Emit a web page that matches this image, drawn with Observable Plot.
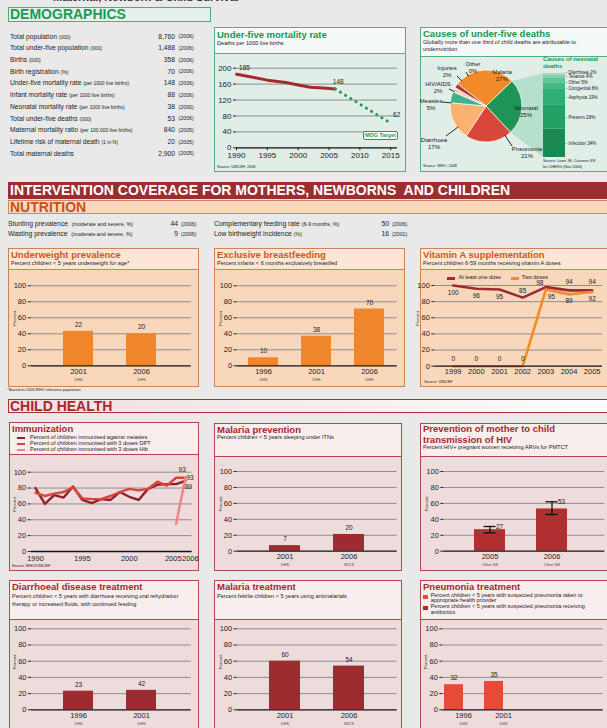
<!DOCTYPE html>
<html><head><meta charset="utf-8">
<script src="https://cdn.jsdelivr.net/npm/d3@7"></script>
<script src="https://cdn.jsdelivr.net/npm/@observablehq/plot@0.6"></script>
<style>
html,body{margin:0;padding:0;background:#e9e9e9;}
#page{position:relative;width:607px;height:728px;overflow:hidden;background:#e9e9e9;font-family:"Liberation Sans",Arial,Helvetica,sans-serif;color:#222;}
#page div{position:absolute;white-space:nowrap;line-height:1;}
#page svg{display:block;}
</style></head><body><div id="page"></div>
<script>
// ================= DATA =================
const topTitle = "Maternal, Newborn & Child Survival";
const demoLabels = ["Total population","Total under-five population","Births","Birth registration","Under-five mortality rate","Infant mortality rate","Neonatal mortality rate","Total under-five deaths","Maternal mortality ratio","Lifetime risk of maternal death","Total maternal deaths"];
const demoUnits = ["(000)","(000)","(000)","(%)","(per 1000 live births)","(per 1000 live births)","(per 1000 live births)","(000)","(per 100,000 live births)","(1 in N)",""];
const demoValues = ["8,760","1,488","358","70","148","88","38","53","840","20","2,900"];
const demoYears = ["2006","2006","2006","2006","2006","2006","2000","2006","2005","2005","2005"];

const u5Years = [1990,1992,1995,1998,2000,2002,2004,2006];
const u5Rates = [185,179,170,164,158,152,150,148];
const mdgYears = [2006,2015];
const mdgRates = [148,62];
const u5Ticks = [1990,1995,2000,2005,2010,2015];

const causeNames = ["Malaria","Neonatal","Pneumonia","Diarrhoea","Measles","HIV/AIDS","Injuries","Other"];
const causeShares = [27,25,21,17,5,2,2,0];
const neoNames = ["Infection","Preterm","Asphyxia","Congenital","Other","Tetanus","Diarrhoea"];
const neoShares = [34,28,19,8,5,4,2];

const nutLeftLabels = ["Stunting prevalence","Wasting prevalence"];
const nutLeftUnits = ["(moderate and severe, %)","(moderate and severe, %)"];
const nutLeftValues = ["44","9"];
const nutLeftYears = ["2006","2006"];
const nutRightLabels = ["Complementary feeding rate","Low birthweight incidence"];
const nutRightUnits = ["(6-9 months, %)","(%)"];
const nutRightValues = ["50","16"];
const nutRightYears = ["2006","2001"];

const uwYears = ["2001","2006"];
const uwBars = [43,40];
const uwLabels = ["22","20"];
const uwSources = ["DHS","DHS"];

const ebfYears = ["1996","2001","2006"];
const ebfBars = [10,37,71];
const ebfLabels = ["10","38","70"];
const ebfSources = ["DHS","DHS","DHS"];

const vitYears = [1999,2000,2001,2002,2003,2004,2005];
const vitOne = [100,96,95,85,98,94,94];
const vitTwo = [0,0,0,0,95,89,92];

const immYears = [1990,1991,1992,1993,1994,1995,1996,1997,1998,1999,2000,2001,2002,2003,2004,2005,2006];
const measles = [80,60,71,68,82,65,61,66,65,75,69,65,79,84,85,85,89];
const dpt = [74,70,73,75,81,67,66,66,70,75,79,77,79,88,83,93,93];
const hibYears = [2005,2006];
const hib = [35,93];

const itnYears = ["2001","2006"];
const itnBars = [7,21];
const itnLabels = ["7","20"];
const itnSources = ["DHS","MICS"];

const pmtctYears = ["2005","2006"];
const pmtctBars = [27,53];
const pmtctLow = [23,46];
const pmtctHigh = [31,62];
const pmtctLabels = ["27","53"];
const pmtctSources = ["Other NS","Other NS"];

const orsYears = ["1996","2001"];
const orsBars = [23,24];
const orsLabels = ["23","42"];
const orsSources = ["DHS","DHS"];

const amYears = ["2001","2006"];
const amBars = [60,54];
const amLabels = ["60","54"];
const amSources = ["DHS","MICS"];

const pneuYears = ["1996","2001"];
const pneuBars = [31,35];
const pneuLabels = ["32","35"];
const pneuSources = ["DHS","DHS"];

// ================= HELPERS =================
const FONT = '"Liberation Sans", Arial, Helvetica, sans-serif';
const page = document.getElementById("page");
function el(css, html){ const e=document.createElement("div"); e.style.cssText=css; if(html!=null) e.innerHTML=html; page.appendChild(e); return e; }
function txt(x,yc,s,size,css=""){ return el(`left:${x}px;top:${yc-size*0.55}px;font-size:${size}px;${css}`, s); }
function txtR(xr,yc,s,size,css=""){ return el(`right:${607-xr}px;top:${yc-size*0.55}px;font-size:${size}px;${css}`, s); }
function mount(svg,left,top){ const d=el(`left:${left}px;top:${top}px;`); d.appendChild(svg); }
const st = () => ({background:"transparent", fontFamily:FONT, fontSize:"8px", color:"#222", overflow:"visible"});
const GRID = "#8e8e8e";
const TH = {
  green:{border:"#58ae82", head:"#f4f8f6", body:"#e1ede7", title:"#17964f"},
  peach:{border:"#cd8258", head:"#fde6d6", body:"#f9d7bb", title:"#cb561e"},
  rose:{border:"#b8434c", head:"#f8eeee", body:"#eedcdd", title:"#a8262d"}
};
function panel(x,y,w,h,tH,t){
  el(`left:${x}px;top:${y}px;width:${w}px;height:${h}px;box-sizing:border-box;border:1px solid ${t.border};background:${t.body};`);
  el(`left:${x}px;top:${y}px;width:${w}px;height:${tH}px;box-sizing:border-box;border:1px solid ${t.border};background:${t.head};`);
}
function title(x,yc,s,t){ return txt(x,yc,s,9.5,`font-weight:bold;color:${t.title};`); }
function sub(x,yc,s){ return txt(x,yc,s,5.6,"color:#222;"); }

// ================= TOP SECTION =================
txt(53,-2,topTitle,11,"font-weight:bold;color:#333;");
el(`left:8px;top:7px;width:203px;height:15px;box-sizing:border-box;border:1px solid #4ea97b;background:#e4f2eb;`);
txt(10,15,"DEMOGRAPHICS",14,"font-weight:bold;color:#1a9a57;");
demoLabels.forEach((l,i)=>{
  const yc = 37.3 + i*11.7;
  txt(10,yc,`${l} <span style="font-size:5px">${demoUnits[i]}</span>`,6.7);
  txtR(175,yc,demoValues[i],6.7);
  txt(178.5,yc,`(${demoYears[i]})`,5.3);
});

// Under-five mortality
panel(214,27,192,145,27,TH.green);
title(217,35.5,"Under-five mortality rate",TH.green);
sub(217,44.5,"Deaths per 1000 live births");
(function(){
  const left=215, top=55, width=191, height=117;
  const u5 = u5Years.map((y,i)=>({year:y, v:u5Rates[i]}));
  const mdg = mdgYears.map((y,i)=>({year:y, v:mdgRates[i]}));
  const svg = Plot.plot({
    width, height, style:st(),
    marginLeft:236-left, marginRight:left+width-397, marginTop:67.7-top, marginBottom:top+height-147.3,
    x:{domain:[1990,2016.1], axis:null}, y:{domain:[0,200], axis:null},
    marks:[
      Plot.ruleY([40,80,120,160,200],{stroke:GRID, strokeWidth:1}),
      Plot.line(u5,{x:"year", y:"v", stroke:"#a52a2f", strokeWidth:3}),
      Plot.line(mdg,{x:"year", y:"v", stroke:"#1e9a5a", strokeWidth:3, strokeDasharray:"0.1,6", strokeLinecap:"round"}),
      Plot.axisY({ticks:[0,40,80,120,160,200], tickFormat:d=>String(d), tickSize:3, tickPadding:2, fontSize:8, line:true, label:null}),
      Plot.axisX({ticks:u5Ticks, tickFormat:d=>String(d), tickSize:3, tickPadding:2, fontSize:8, label:null}),
      Plot.ruleY([0],{stroke:"#111", strokeWidth:1.3}),
      Plot.text([u5[0]],{x:"year", y:"v", text:d=>String(d.v), dx:8, dy:-6, fontSize:6.5}),
      Plot.text([u5[u5.length-1]],{x:"year", y:"v", text:d=>String(d.v), dx:3, dy:-6.5, fontSize:6.5}),
      Plot.text([mdg[mdg.length-1]],{x:"year", y:"v", text:d=>String(d.v), dx:6, dy:-8.5, fontSize:6.5})
    ]
  });
  mount(svg,left,top);
})();
el(`left:363px;top:131px;width:35px;height:9px;box-sizing:border-box;border:1px solid #1e9a5a;border-radius:2px;background:#fff;color:#1e9a5a;font-weight:bold;font-size:5.5px;line-height:7px;text-align:center;`,"MDG Target");
txt(217,168,"Source: UNICEF, 2008",3.8);

// Causes of under-five deaths
panel(420,27,192,145,30,TH.green);
title(423,34.5,"Causes of under-five deaths",TH.green);
sub(423,43.3,"Globally more than one third of child deaths are attributable to");
sub(423,50.3,"undernutrition");
(function(){
  const left=420, top=57, width=187, height=115;
  const cx=66, cy=49, R=36;
  const start = -52*Math.PI/180;
  const causeColors = ["#f18a2a","#1f9457","#d9473b","#fbb270","#3fb489","#f9cdb7","#a8323a","#888888"];
  const neoColors = ["#1b8a52","#22a065","#2fae75","#48b985","#64c398","#82cfaa","#a2dcbf"];
  const causeData = causeNames.map((n,i)=>({name:n, v:causeShares[i]}));
  const arcs = d3.pie().sort(null).value(d=>d.v).startAngle(start).endAngle(start+2*Math.PI)(causeData);
  const neoArc = arcs[causeNames.indexOf("Neonatal")];
  let cum = 0;
  const neoData = neoNames.map((n,i)=>{ const d={name:n, v:neoShares[i], mid:cum+neoShares[i]/2}; cum+=neoShares[i]; return d; });
  const labelNudge = {Diarrhoea:2.6, Other:-2.0, Congenital:-2.6};
  const barX0=123, barX1=145, mTop=16, mBottom=15;
  const pt = (a,r) => [cx + r*Math.sin(a), cy - r*Math.cos(a)];
  const labelAt = {Other:[-13,-39], Injuries:[-39,-35], "HIV/AIDS":[-48,-19], Measles:[-55,-2], Diarrhoea:[-52,37], Malaria:[16,-31], Neonatal:[40,5], Pneumonia:[41,46]};
  const leaderAt = {Other:[-20,-34], Injuries:[-29,-30], "HIV/AIDS":[-37,-17], Measles:[-44,-4], Diarrhoea:[-40,30], Pneumonia:[26,40]};
  const pieMark = () => {
    const g = d3.create("svg:g");
    const [ax,ay] = pt(neoArc.startAngle,R), [bx,by] = pt(neoArc.endAngle,R);
    g.append("path").attr("d",`M${ax},${ay}L${barX0},${mTop}L${barX0},${height-mBottom}L${bx},${by}Z`).attr("fill","#b5e0cb");
    const arc = d3.arc().innerRadius(0).outerRadius(R);
    g.append("g").attr("transform",`translate(${cx},${cy})`)
      .selectAll("path").data(arcs.filter(a=>a.data.v>0)).join("path")
      .attr("d",arc).attr("fill",d=>causeColors[d.index]).attr("stroke","#fff").attr("stroke-width",0.7);
    arcs.forEach(a=>{
      const n=a.data.name, le=leaderAt[n];
      if(le){
        const ang=Math.atan2(le[0],-le[1]);
        const [px,py]=pt(ang,R-1.5);
        g.append("line").attr("x1",cx+le[0]).attr("y1",cy+le[1]).attr("x2",px).attr("y2",py).attr("stroke","#111").attr("stroke-width",0.9);
      }
      const [lx,ly]=labelAt[n];
      const t=g.append("text").attr("text-anchor","middle").attr("font-size",6).attr("fill","#222").attr("font-family",FONT);
      t.append("tspan").attr("x",cx+lx).attr("y",cy+ly-1).text(n);
      t.append("tspan").attr("x",cx+lx).attr("y",cy+ly+6).text(a.data.v+"%");
    });
    return g.node();
  };
  const svg = Plot.plot({
    width, height, style:st(),
    marginLeft:0, marginRight:0, marginTop:mTop, marginBottom:mBottom,
    x:{type:"band", domain:["neo"], range:[barX0,barX1], padding:0, axis:null},
    y:{domain:[0,100], axis:null},
    color:{domain:neoNames, range:neoColors},
    marks:[
      pieMark,
      Plot.barY(neoData,{x:()=>"neo", y:"v", fill:"name"}),
      Plot.text(neoData,{x:()=>"neo", y:d=>d.mid+(labelNudge[d.name]||0), text:d=>`${d.name} ${d.v}%`, textAnchor:"start", dx:14, fontSize:4.6, fill:"#222"}),
      Plot.text(neoData,{x:()=>"neo", y:d=>d.mid+(labelNudge[d.name]||0), text:()=>"-", textAnchor:"start", dx:11, fontSize:5, fill:"#222"})
    ]
  });
  mount(svg,left,top);
})();
txt(543,59.5,"Causes of neonatal",6,"font-weight:bold;color:#17964f;");
txt(543,66.5,"deaths",6,"font-weight:bold;color:#17964f;");
txt(423,167,"Source: WHO, 2008",3.8);
txt(543,162,"Source: Lawn JE, Cousens SN",3.8);
txt(543,168,"for CHERG (Nov 2006)",3.8);

// ================= INTERVENTION / NUTRITION =================
el(`left:8px;top:182px;width:605px;height:17px;background:#9c2e32;`);
txt(10,190.5,"INTERVENTION COVERAGE FOR MOTHERS, NEWBORNS&nbsp; AND CHILDREN",14,"font-weight:bold;color:#fff;");
el(`left:8px;top:200px;width:605px;height:14px;box-sizing:border-box;border:1px solid #cc8a63;background:#fad8bd;`);
txt(10,207.5,"NUTRITION",14,"font-weight:bold;color:#c8511c;");
[0,1].forEach(i=>{
  const yc = i===0 ? 224.5 : 234.5;
  txt(8,yc,`${nutLeftLabels[i]} &nbsp;<span style="font-size:5.3px">${nutLeftUnits[i]}</span>`,6.8);
  txtR(178,yc,nutLeftValues[i],6.8);
  txt(181,yc,`(${nutLeftYears[i]})`,5.3);
  txt(214,yc,`${nutRightLabels[i]} <span style="font-size:5.3px">${nutRightUnits[i]}</span>`,6.8);
  txtR(389,yc,nutRightValues[i],6.8);
  txt(392,yc,`(${nutRightYears[i]})`,5.3);
});

function barChart(o){
  const data = o.cats.map((c,i)=>({cat:c, v:o.values[i], label:o.labels[i], sub:o.subs[i]}));
  const n = o.centers.length, step = o.centers[1]-o.centers[0];
  const r0 = o.centers[0]-o.bw/2-o.left, r1 = o.centers[n-1]+o.bw/2-o.left;
  const marks = [
    Plot.ruleY([20,40,60,80,100],{stroke:GRID, strokeWidth:1}),
    Plot.barY(data,{x:"cat", y:"v", fill:o.color, insetRight:o.barInsetRight||0}),
    ...(o.extra ? o.extra(data) : []),
    Plot.axisY({ticks:[0,20,40,60,80,100], tickFormat:d=>String(d), tickSize:3, tickPadding:2, fontSize:7.5, line:true, label:null}),
    Plot.ruleY([0],{stroke:"#111", strokeWidth:1.3}),
    Plot.text(data,{x:"cat", frameAnchor:"bottom", text:"cat", dy:8, fontSize:7.5, fill:"#222"}),
    Plot.text(data,{x:"cat", frameAnchor:"bottom", text:"sub", dy:14.8, fontSize:3.8, fill:"#444"}),
    Plot.text(["Percent"],{frameAnchor:"left", text:d=>d, rotate:-90, dx:-17, fontSize:4.3, fill:"#333"})
  ];
  if(!o.noLabels) marks.push(Plot.text(data,{x:"cat", y:"v", text:"label", dy:-6.5, dx:o.labelDx||0, fontSize:6.5, fill:"#222"}));
  const svg = Plot.plot({
    width:o.width, height:o.height, style:st(),
    marginLeft:o.axisX-o.left, marginRight:o.left+o.width-o.gridEnd,
    marginTop:o.y100-o.top, marginBottom:o.top+o.height-o.y0,
    x:{type:"band", domain:o.cats, range:[r0,r1], paddingInner:1-o.bw/step, paddingOuter:0, axis:null},
    y:{domain:[0,100], axis:null},
    marks
  });
  mount(svg,o.left,o.top);
}
const ORANGE="#f0862b", DRED="#9c2c30";

// Underweight
panel(8,248,191,139,22,TH.peach);
title(11,255,"Underweight prevalence",TH.peach);
sub(11,264,"Percent children &lt; 5 years underweight for age*");
barChart({left:9,top:271,width:189,height:115,y100:285.3,y0:365.3,axisX:30.7,gridEnd:190.7,centers:[77.5,141.3],bw:30.5,cats:uwYears,values:uwBars,labels:uwLabels,subs:uwSources,color:ORANGE});
txt(7.5,391.5,"*Based on 2006 WHO reference population",3.8);

// Exclusive breastfeeding
panel(214,248,191,139,22,TH.peach);
title(217,255,"Exclusive breastfeeding",TH.peach);
sub(217,264,"Percent infants &lt; 6 months exclusively breastfed");
barChart({left:215,top:271,width:189,height:115,y100:285.3,y0:365.3,axisX:236.7,gridEnd:396.7,centers:[262.7,316.5,370.3],bw:30.7,cats:ebfYears,values:ebfBars,labels:ebfLabels,subs:ebfSources,color:ORANGE});

// Vitamin A
panel(420,248,192,139,22,TH.peach);
title(423,255,"Vitamin A supplementation",TH.peach);
sub(423,264,"Percent children 6-59 months receiving vitamin A doses");
(function(){
  const left=421, top=271, width=186, height=116;
  const one = vitYears.map((y,i)=>({year:y, v:vitOne[i]}));
  const two = vitYears.map((y,i)=>({year:y, v:vitTwo[i]}));
  const lab = (d,opts) => Plot.text(d,{x:"year", y:"v", text:d=>String(d.v), fontSize:6.5, fill:"#222", ...opts});
  const svg = Plot.plot({
    width, height, style:st(),
    marginLeft:434.3-left, marginRight:left+width-602, marginTop:285-top, marginBottom:top+height-365.7,
    x:{domain:[1999,2005], range:[452.7-left, 591.7-left], axis:null},
    y:{domain:[0,100], axis:null},
    marks:[
      Plot.ruleY([20,40,60,80,100],{stroke:GRID, strokeWidth:1}),
      Plot.line(one,{x:"year", y:"v", stroke:"#9e2b30", strokeWidth:2.6}),
      Plot.line(two,{x:"year", y:"v", stroke:"#f28c28", strokeWidth:2.6}),
      Plot.axisY({ticks:[0,20,40,60,80,100], tickFormat:d=>String(d), tickSize:3, tickPadding:2, fontSize:7.5, line:true, label:null}),
      Plot.ruleY([0],{stroke:"#111", strokeWidth:1.3}),
      Plot.text(vitYears,{x:d=>d, frameAnchor:"bottom", text:d=>String(d), dy:8, fontSize:7.5, fill:"#222"}),
      Plot.text(["Percent"],{frameAnchor:"left", text:d=>d, rotate:-90, dx:-17, fontSize:4.3, fill:"#333"}),
      lab(one.filter(d=>d.year<2002),{dy:7.5}),
      lab(one.filter(d=>d.year===2002),{dy:-7}),
      lab(one.filter(d=>d.year===2003),{dy:-4, dx:-6}),
      lab(one.filter(d=>d.year>2003),{dy:-8}),
      lab(two.filter(d=>d.v===0),{dy:-7.5}),
      lab(two.filter(d=>d.year===2003),{dy:7.5, dx:5.5}),
      lab(two.filter(d=>d.year>2003),{dy:7})
    ]
  });
  mount(svg,left,top);
})();
el(`left:446.7px;top:277.2px;width:8px;height:2.5px;background:#9e2b30;`);
txt(458.5,278.3,"At least one dose",5.5);
el(`left:511px;top:277.2px;width:8px;height:2.5px;background:#f28c28;`);
txt(521.7,278.3,"Two doses",5.5);
txt(424.3,382.7,"Source: UNICEF",3.8);

// ================= CHILD HEALTH =================
el(`left:8px;top:399px;width:605px;height:14px;box-sizing:border-box;border:1px solid #a8323a;background:linear-gradient(to right,#f1e0e2,#f8eff0 60%,#ffffff);`);
txt(10,406.5,"CHILD HEALTH",14,"font-weight:bold;color:#a8262c;");

// Immunization
panel(9,422,190,149,33,TH.rose);
title(12,429.5,"Immunization",TH.rose);
[["#8f2129","Percent of children immunised against measles"],["#d9453b","Percent of children immunised with 3 doses DPT"],["#f08484","Percent of children immunised with 3 doses Hib"]].forEach(([c,s],i)=>{
  const yc=437.7+i*6.2;
  el(`left:16.7px;top:${yc-1.2}px;width:8.5px;height:2.4px;background:${c};`);
  txt(30,yc,s,5.6);
});
(function(){
  const left=10, top=456, width=188, height=111;
  const m = immYears.map((y,i)=>({year:y, v:measles[i]}));
  const d = immYears.map((y,i)=>({year:y, v:dpt[i]}));
  const h = hibYears.map((y,i)=>({year:y, v:hib[i]}));
  const svg = Plot.plot({
    width, height, style:st(),
    marginLeft:30.7-left, marginRight:left+width-191.7, marginTop:471.7-top, marginBottom:top+height-551,
    x:{domain:[1990,2006], range:[35-left,185-left], axis:null},
    y:{domain:[0,100], axis:null},
    marks:[
      Plot.ruleY([20,40,60,80,100],{stroke:GRID, strokeWidth:1}),
      Plot.line(m,{x:"year", y:"v", stroke:"#8f2129", strokeWidth:2.4}),
      Plot.line(d,{x:"year", y:"v", stroke:"#d9453b", strokeWidth:2.4}),
      Plot.line(h,{x:"year", y:"v", stroke:"#f08484", strokeWidth:2.4}),
      Plot.axisY({ticks:[0,20,40,60,80,100], tickFormat:d=>String(d), tickSize:3, tickPadding:2, fontSize:7.5, line:true, label:null}),
      Plot.ruleY([0],{stroke:"#111", strokeWidth:1.3}),
      Plot.text([1990,1995,2000],{x:d=>d, frameAnchor:"bottom", text:d=>String(d), dy:9, fontSize:7.5, fill:"#222"}),
      Plot.text([2005],{x:d=>d, frameAnchor:"bottom", text:d=>String(d), dy:9, dx:5.5, textAnchor:"end", fontSize:7.5, fill:"#222"}),
      Plot.text([2006],{x:d=>d, frameAnchor:"bottom", text:d=>String(d), dy:9, dx:-3.5, textAnchor:"start", fontSize:7.5, fill:"#222"}),
      Plot.text(["Percent"],{frameAnchor:"left", text:d=>d, rotate:-90, dx:-17, fontSize:4.3, fill:"#333"}),
      Plot.text([d[d.length-1]],{x:"year", y:"v", text:d=>String(d.v), dx:-3.3, dy:-7.5, fontSize:6.5, fill:"#222"}),
      Plot.text([h[h.length-1]],{x:"year", y:"v", text:d=>String(d.v), dx:4.5, dy:0, fontSize:6.5, fill:"#222"}),
      Plot.text([m[m.length-1]],{x:"year", y:"v", text:d=>String(d.v), dx:3, dy:5.5, fontSize:6.5, fill:"#222"})
    ]
  });
  mount(svg,left,top);
})();
txt(11.7,567,"Source: WHO/UNICEF",3.8);

// Malaria prevention
panel(214,423,188,148,34,TH.rose);
title(217,430,"Malaria prevention",TH.rose);
sub(217,438.5,"Percent children &lt; 5 years sleeping under ITNs");
barChart({left:215,top:458,width:186,height:112,y100:471,y0:550.7,axisX:236.7,gridEnd:396.7,centers:[284.5,348.7],bw:31,cats:itnYears,values:itnBars,labels:itnLabels,subs:itnSources,color:DRED});

// PMTCT
panel(420,423,192,148,34,TH.rose);
title(423,429.5,"Prevention of mother to child",TH.rose);
title(423,440,"transmission of HIV",TH.rose);
sub(423,448.5,"Percent HIV+ pregnant women receiving ARVs for PMTCT");
barChart({left:421,top:458,width:186,height:112,y100:471,y0:550.7,axisX:443.3,gridEnd:604.3,centers:[489.5,551.5],bw:31,cats:pmtctYears,values:pmtctBars,labels:pmtctLabels,subs:pmtctSources,color:"#b02f31",noLabels:true,
  extra:(data)=>{
    const err = data.map((d,i)=>({...d, lo:pmtctLow[i], hi:pmtctHigh[i]}));
    return [
      Plot.ruleX(err,{x:"cat", y1:"lo", y2:"hi", stroke:"#111", strokeWidth:1.3}),
      Plot.tickY(err,{x:"cat", y:"lo", stroke:"#111", strokeWidth:1.3, insetLeft:9.5, insetRight:9.5}),
      Plot.tickY(err,{x:"cat", y:"hi", stroke:"#111", strokeWidth:1.3, insetLeft:9.5, insetRight:9.5}),
      Plot.text(err,{x:"cat", y:"hi", text:"label", dx:6, dy:0.5, textAnchor:"start", fontSize:6.5, fill:"#222"})
    ];
  }});

// Diarrhoeal disease treatment
panel(9,580,190,160,40,TH.rose);
title(12,587,"Diarrhoeal disease treatment",TH.rose);
sub(12,596.7,"Percent children &lt; 5 years with diarrhoea receiving oral rehydration");
sub(12,605,"therapy or increased fluids, with continued feeding");
barChart({left:10,top:621,width:188,height:107,y100:628.3,y0:709.3,axisX:31,gridEnd:190.7,centers:[77.5,141.3],bw:30.5,cats:orsYears,values:orsBars,labels:orsLabels,subs:orsSources,color:DRED});

// Malaria treatment
panel(214,580,188,160,40,TH.rose);
title(217,587,"Malaria treatment",TH.rose);
sub(217,596.7,"Percent febrile children &lt; 5 years using antimalarials");
barChart({left:215,top:621,width:186,height:107,y100:628.3,y0:709.3,axisX:236.7,gridEnd:396.7,centers:[284.5,348.7],bw:31,cats:amYears,values:amBars,labels:amLabels,subs:amSources,color:DRED});

// Pneumonia treatment
panel(420,580,192,160,40,TH.rose);
title(423,587,"Pneumonia treatment",TH.rose);
el(`left:423.3px;top:594.5px;width:4.3px;height:4.3px;background:#e84a38;`);
txt(430.7,596.5,"Percent children &lt; 5 years with suspected pneumonia taken to",5.5);
txt(430.7,601.5,"appropriate health provider",5.5);
el(`left:423.3px;top:605.5px;width:4.3px;height:4.3px;background:#a8282d;`);
txt(430.7,607.5,"Percent children &lt; 5 years with suspected pneumonia receiving",5.5);
txt(430.7,613,"antibiotics",5.5);
barChart({left:421,top:621,width:186,height:107,y100:628.3,y0:709.3,axisX:442.3,gridEnd:602.7,centers:[463,503],bw:38,barInsetRight:19,labelDx:-9.5,cats:pneuYears,values:pneuBars,labels:pneuLabels,subs:pneuSources,color:"#e84a38"});
</script></body></html>
